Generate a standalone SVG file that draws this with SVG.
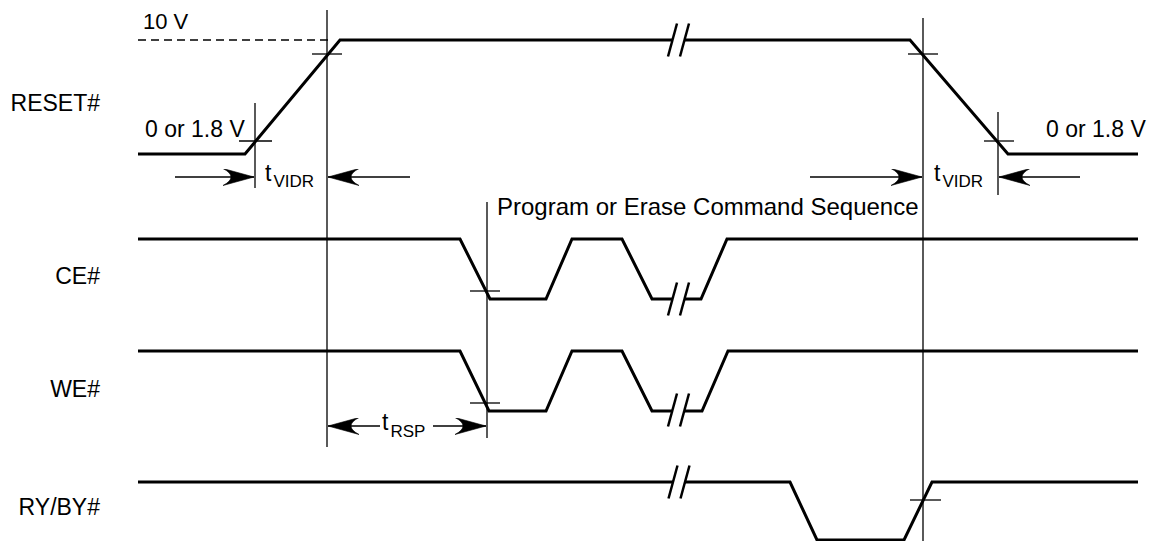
<svg xmlns="http://www.w3.org/2000/svg" width="1151" height="541" viewBox="0 0 1151 541">
<style>
.sig{fill:none;stroke:#000;stroke-width:3;stroke-linejoin:miter}
.thin{fill:none;stroke:#000;stroke-width:1.3}
.dash{fill:none;stroke:#000;stroke-width:1.3;stroke-dasharray:8 5}
.lbl{font-family:"Liberation Sans",Arial,Helvetica,sans-serif;font-size:23px;fill:#000}
.sub{font-size:17px}
.brk line{stroke:#000;stroke-width:2.5}
</style>
<defs>
<marker id="ah" markerUnits="userSpaceOnUse" markerWidth="31" markerHeight="17" refX="31" refY="8.5" orient="auto" viewBox="0 0 31 17">
<path d="M31,8.5 L0,0 Q16,8.5 0,17 Z" fill="#000" stroke="#000" stroke-width="0.6" stroke-linejoin="round"/>
</marker>
<g id="brk" class="brk">
<polygon points="-10.5,16.5 -1.5,-16.5 10.5,-16.5 1.5,16.5" fill="#fff"/>
<line x1="-10.5" y1="16.5" x2="-1.5" y2="-16.5"/>
<line x1="1.5" y1="16.5" x2="10.5" y2="-16.5"/>
</g>
</defs>
<rect width="1151" height="541" fill="#fff"/>

<g id="reset">
<text class="lbl" x="100" y="111" text-anchor="end">RESET#</text>
<text class="lbl" x="143" y="29" style="font-size:22px">10 V</text>
<text class="lbl" x="145" y="137">0 or 1.8 V</text>
<text class="lbl" x="1046" y="137">0 or 1.8 V</text>
<line class="dash" x1="138" y1="40" x2="330" y2="40"/>
<polyline class="sig" points="138,154 245,154 340,40 910,40 1008,154 1138,154"/>
<use href="#brk" x="678.5" y="40"/>
</g>

<g id="ce">
<text class="lbl" x="100" y="284" text-anchor="end">CE#</text>
<polyline class="sig" points="138,239 460,239 490,299 546,299 572,239 622,239 652,299 701,299 727,239 1138,239"/>
<use href="#brk" x="678.5" y="299"/>
</g>

<g id="we">
<text class="lbl" x="100" y="397" text-anchor="end">WE#</text>
<polyline class="sig" points="138,351 460,351 489,411 546,411 572,351 622,351 652,411 702,411 728,351 1138,351"/>
<use href="#brk" x="678.5" y="410"/>
</g>

<g id="rybusy">
<text class="lbl" x="100" y="515" text-anchor="end">RY/BY#</text>
<polyline class="sig" points="138,482 790,482 817,540 904,540 932,482 1138,482"/>
<use href="#brk" x="679" y="482"/>
</g>

<g id="sequence-label">
<text class="lbl" x="497" y="215" style="font-size:24px">Program or Erase Command Sequence</text>
</g>

<g id="timing-labels">
<text class="lbl" x="265" y="181">t<tspan class="sub" dx="2" dy="6">VIDR</tspan></text>
<text class="lbl" x="934" y="181">t<tspan class="sub" dx="2" dy="6">VIDR</tspan></text>
<text class="lbl" x="382" y="430">t<tspan class="sub" dx="2" dy="7">RSP</tspan></text>
</g>

<g id="connectors">
<line class="thin" x1="255" y1="103" x2="255" y2="188"/>
<line class="thin" x1="327" y1="10" x2="327" y2="447"/>
<line class="thin" x1="487" y1="202" x2="487" y2="438"/>
<line class="thin" x1="923" y1="18" x2="923" y2="541"/>
<line class="thin" x1="998" y1="112" x2="998" y2="195"/>
<line class="thin" x1="239" y1="141" x2="272" y2="141"/>
<line class="thin" x1="312" y1="54" x2="342" y2="54"/>
<line class="thin" x1="908" y1="54" x2="938" y2="54"/>
<line class="thin" x1="984" y1="141" x2="1014" y2="141"/>
<line class="thin" x1="470" y1="291" x2="500" y2="291"/>
<line class="thin" x1="470" y1="403" x2="500" y2="403"/>
<line class="thin" x1="910" y1="500" x2="941" y2="500"/>
<line class="thin" x1="175" y1="177" x2="254" y2="177" marker-end="url(#ah)"/>
<line class="thin" x1="410" y1="177" x2="328" y2="177" marker-end="url(#ah)"/>
<line class="thin" x1="810" y1="177" x2="922" y2="177" marker-end="url(#ah)"/>
<line class="thin" x1="1080" y1="177" x2="999" y2="177" marker-end="url(#ah)"/>
<line class="thin" x1="380" y1="426" x2="328" y2="426" marker-end="url(#ah)"/>
<line class="thin" x1="433" y1="426" x2="486" y2="426" marker-end="url(#ah)"/>
</g>
</svg>
